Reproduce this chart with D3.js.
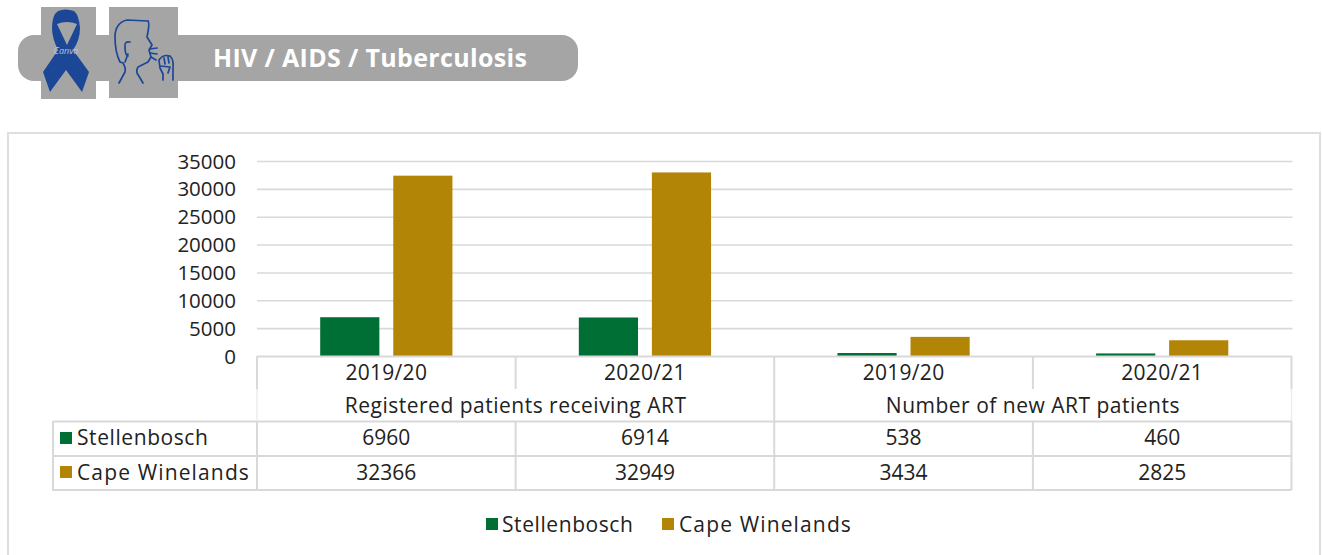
<!DOCTYPE html>
<html><head><meta charset="utf-8">
<script src="https://cdnjs.cloudflare.com/ajax/libs/d3/7.8.5/d3.min.js"></script>
<style>html,body{margin:0;background:#fff}svg{display:block}text{font-family:"Open Sans",Lato,sans-serif;fill:#222}</style>
</head><body><svg id="c" width="1322" height="555"></svg>
<script>
const title = "HIV / AIDS / Tuberculosis";
const periods = ["2019/20","2020/21","2019/20","2020/21"];
const groups = ["Registered patients receiving ART","Number of new ART patients"];
const seriesNames = ["Stellenbosch","Cape Winelands"];
const stellenbosch = [6960,6914,538,460];
const capeWinelands = [32366,32949,3434,2825];
const seriesColors = ["#006f35","#b38507"];
const yTicks = [0,5000,10000,15000,20000,25000,30000,35000];
const seriesValues = [stellenbosch,capeWinelands];

const svg = d3.select("#c");
const grid="#d9d9d9";
// banner
svg.append("rect").attr("x",18).attr("y",35).attr("width",560).attr("height",46).attr("rx",16).attr("fill","#a5a5a5");
svg.append("rect").attr("x",41).attr("y",7).attr("width",55).attr("height",92).attr("fill","#a5a5a5");
svg.append("rect").attr("x",109).attr("y",7).attr("width",69).attr("height",91).attr("fill","#a5a5a5");
svg.append("text").text(title).attr("x",213).attr("y",67).attr("font-size",25).attr("font-weight",700).style("fill","#fff").attr("textLength",314);
// ribbon
const blue="#1c4796";
svg.append("path").attr("fill",blue).attr("fill-rule","evenodd").attr("d","M58 11 Q65 8 74 11 Q79 15 80 28 Q80 40 73 50 L89 72 L82 92 L66 70 L50 92 L43 72 L58 50 Q52 38 52 28 Q52 15 58 11 Z M57 24 L67 45 L77 24 Q67 20 57 24 Z");
svg.append("text").text("Canva").attr("x",66).attr("y",54).attr("text-anchor","middle").attr("font-size",9).attr("font-style","italic").style("fill","#b9c4da");
// face
svg.append("g").attr("fill","none").attr("stroke",blue).attr("stroke-width",1.7).attr("stroke-linecap","round").attr("stroke-linejoin","round").selectAll("path").data([
 "M148 21 L127 20 Q115 23 115 37 Q115 52 120 62 L123 63 Q126 68 125 72 L119 83",
 "M148 21 Q150 23 147 37 L152 45 L149 50 L151 57 L148 62 Q140 66 138 67 Q136 70 137 73 L143 83",
 "M130 42 Q124 41 125 47 Q125 55 128 56 M125 62 L128 54",
 "M150 49 L157 48 M150 53 L157 54 M151 57 L156 60",
 "M159 60 Q163 54 170 56 Q174 60 173 68 L173 80 M159 60 L160 68 Q162 72 163 74 L163 80 M164 58 L165 64 M168 57 L169 63 M160 66 L170 67 L168 73"
]).join("path").attr("d",d=>d);
// frame
svg.append("rect").attr("x",8).attr("y",133).attr("width",1312).attr("height",430).attr("fill","none").attr("stroke","#dedede").attr("stroke-width",2);

const x0=257,x1=1291.5;
const y = d3.scaleLinear().domain([0,35000]).range([356,161]);
const xBand = d3.scaleBand().domain(d3.range(periods.length)).range([x0,x1]);
const xInner = d3.scaleBand().domain(d3.range(seriesNames.length)).range([0,xBand.bandwidth()]).paddingInner(0.19).paddingOuter(0.865).align(.5);
// grid & y axis
svg.append("g").selectAll("line").data(yTicks.slice(1)).join("line").attr("x1",x0).attr("x2",x1+1).attr("y1",d=>y(d)+.5).attr("y2",d=>y(d)+.5).attr("stroke",grid).attr("stroke-width",1.6);
const ax=svg.append("g").attr("transform",`translate(${x0-21},0.5)`).call(d3.axisLeft(y).tickValues(yTicks).tickFormat(d3.format("d")).tickSize(0).tickPadding(0));
ax.select(".domain").remove();
ax.selectAll("text").attr("font-size",20.5);
// bars
svg.append("g").selectAll("g").data(seriesValues).join("g").attr("fill",(d,i)=>seriesColors[i]).each(function(vals,s){
  d3.select(this).selectAll("rect").data(vals).join("rect")
   .attr("x",(d,i)=>xBand(i)+xInner(s)).attr("width",xInner.bandwidth()).attr("y",d=>y(d)).attr("height",d=>y(0)-y(d));
});
// table
const lc=53;
const line=(a,b,c,d,col=grid,sw=2)=>svg.append("line").attr("x1",a).attr("y1",b).attr("x2",c).attr("y2",d).attr("stroke",col).attr("stroke-width",sw);
const w=xBand.bandwidth();
line(x0,356.5,x1,356.5);line(lc,421.5,x1,421.5);line(lc,456,x1,456);line(lc,490,x1,490);
line(lc,421,lc,491);
[x0,x1].forEach(xx=>{line(xx,356,xx,389);line(xx,389,xx,421,"#ececec",1.5);line(xx,421,xx,490);});
[1,3].forEach(i=>{line(x0+i*w,356,x0+i*w,389);line(x0+i*w,421,x0+i*w,490);});
line(x0+2*w,356,x0+2*w,490);
const cell=(t,x,yy,anchor="middle",ls=0)=>svg.append("text").text(t).attr("x",x).attr("y",yy).attr("text-anchor",anchor).attr("font-size",21).style("letter-spacing",ls+"px");
const nameSpacing=[.58,1.14];
periods.forEach((p,i)=>cell(p,xBand(i)+w/2,380,"middle",.3));
groups.forEach((g,i)=>cell(g,x0+(i*2+1)*w,413,"middle",.5));
seriesValues.forEach((vals,s)=>{
  const yy=[445,480][s];
  svg.append("rect").attr("x",60).attr("y",[432,466][s]).attr("width",12).attr("height",12).attr("fill",seriesColors[s]);
  cell(seriesNames[s],77,yy,"start",nameSpacing[s]);
  vals.forEach((v,i)=>cell(v,xBand(i)+w/2,yy));
});
// legend
[[486,502],[662,679]].forEach(([a,b],s)=>{
  svg.append("rect").attr("x",a).attr("y",518).attr("width",12).attr("height",12).attr("fill",seriesColors[s]);
  cell(seriesNames[s],b,532,"start",nameSpacing[s]);
});
</script></body></html>
